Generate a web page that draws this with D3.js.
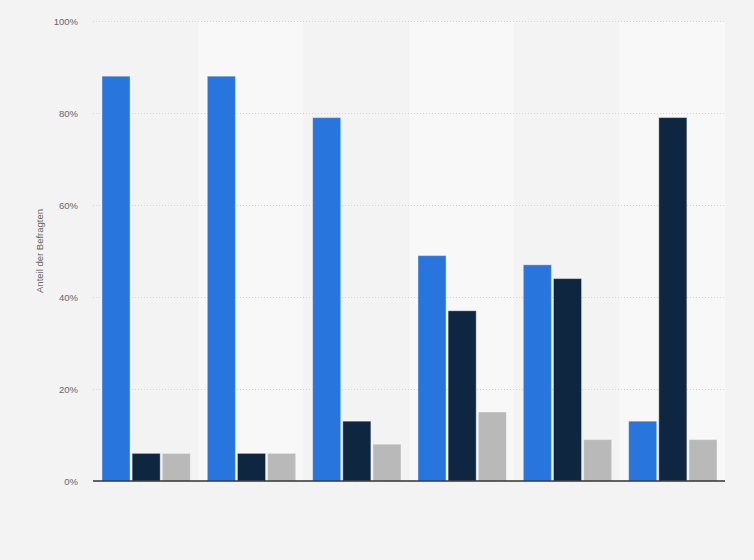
<!DOCTYPE html>
<html>
<head>
<meta charset="utf-8">
<script src="https://cdn.jsdelivr.net/npm/d3@7"></script>
<style>
  body { margin: 0; background: #f3f3f3; }
  svg { display: block; font-family: "Liberation Sans", Arial, sans-serif; }
  .grid line { stroke: #d6d6d6; stroke-dasharray: 1,2; }
  .y.axis text { fill: #666; font-size: 9.5px; }
</style>
</head>
<body>
<script>
// categories are not labelled in the picture
var categories = ["1", "2", "3", "4", "5", "6"];
var seriesNames = ["Serie 1", "Serie 2", "Serie 3"];
var serie1 = [88, 88, 79, 49, 47, 13];
var serie2 = [6, 6, 13, 37, 44, 79];
var serie3 = [6, 6, 8, 15, 9, 9];
var yTicks = [0, 20, 40, 60, 80, 100];
var colors = ["#2876dd", "#0f2640", "#b9b9b9"];

var series = [serie1, serie2, serie3];

var margin = {top: 21, right: 29, bottom: 79, left: 93}
  , width = 754 - margin.left - margin.right
  , height = 560 - margin.top - margin.bottom;

var svg = d3.select("body").append("svg")
    .attr("width", 754)
    .attr("height", 560)
  .append("g")
    .attr("transform", "translate(" + margin.left + "," + margin.top + ")");

var x0 = d3.scaleBand()
    .domain(categories)
    .range([0, width]);

var x1 = d3.scaleBand()
    .domain(d3.range(series.length))
    .range([9, x0.bandwidth() - 8])
    .paddingInner(0.07);

var yScale = d3.scaleLinear()
    .domain([0, 100])
    .range([height, 0]);

// alternating column shading
svg.selectAll(".band")
    .data(categories)
  .enter().append("rect")
    .attr("class", "band")
    .attr("x", function(d) { return x0(d); })
    .attr("y", 0)
    .attr("width", x0.bandwidth())
    .attr("height", height)
    .attr("fill", function(d, i) { return i % 2 ? "#f8f8f8" : "#f3f3f3"; });

svg.append("g")
    .attr("class", "grid")
    .call(d3.axisLeft(yScale).tickValues(yTicks).tickSize(-width).tickFormat(""))
    .call(function(g) { g.select(".domain").remove(); });

svg.append("g")
    .attr("class", "y axis")
    .call(d3.axisLeft(yScale).tickValues(yTicks).tickSize(0).tickPadding(15)
          .tickFormat(function(d) { return d + "%"; }))
    .call(function(g) { g.select(".domain").remove(); });

svg.append("text")
    .attr("transform", "translate(" + (40 - margin.left) + "," + (height / 2) + ") rotate(-90)")
    .attr("text-anchor", "middle")
    .attr("dy", "0.35em")
    .attr("fill", "#666")
    .attr("font-size", "9.5px")
    .text("Anteil der Befragten");

var groups = svg.selectAll(".group")
    .data(categories)
  .enter().append("g")
    .attr("class", "group")
    .attr("transform", function(d) { return "translate(" + x0(d) + ",0)"; });

groups.selectAll("rect")
    .data(function(d, i) { return series.map(function(s, j) { return {k: j, v: s[i]}; }); })
  .enter().append("rect")
    .attr("x", function(d) { return x1(d.k); })
    .attr("y", function(d) { return yScale(d.v); })
    .attr("width", x1.bandwidth())
    .attr("height", function(d) { return height - yScale(d.v); })
    .attr("fill", function(d) { return colors[d.k]; })
    .attr("stroke", "rgba(255,255,255,0.35)")
    .attr("stroke-width", 1);

svg.append("line")
    .attr("x1", 0)
    .attr("x2", width)
    .attr("y1", height)
    .attr("y2", height)
    .attr("stroke", "#333")
    .attr("stroke-width", 1.5);
</script>
</body>
</html>
